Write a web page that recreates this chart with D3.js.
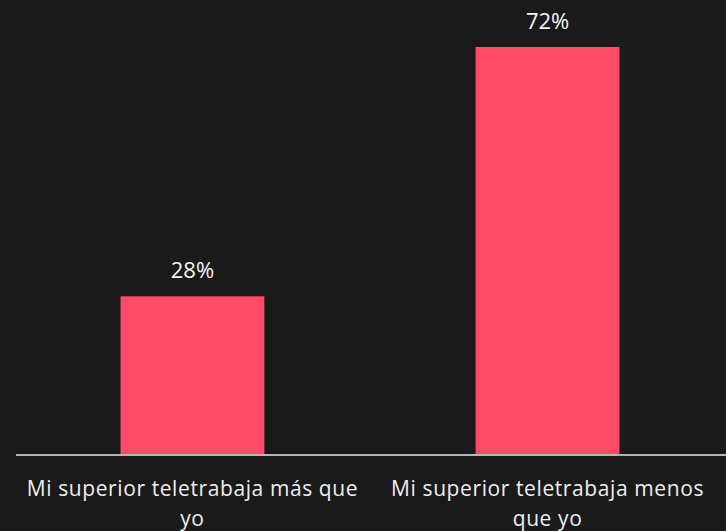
<!DOCTYPE html>
<html lang="es">
<head>
    <meta charset="UTF-8">
    <title>Teletrabajo superior</title>
    <script src="https://d3js.org/d3.v7.min.js"></script>
    <style>
        body {background:#1a1a1a; margin:0}
        svg {display:block}
        text {font-family: "Open Sans", Lato, sans-serif;}
    </style>
</head>
<body>
<svg id="chart" width="726" height="531"></svg>
<script>
// categories + values
var categories = [
    ["Mi superior teletrabaja más que", "yo"],
    ["Mi superior teletrabaja menos", "que yo"]
];
var values = [28, 72];
var valueLabels = ["28%", "72%"];

var width = 726, height = 531;
var svg = d3.select("#chart");
svg.append("rect").attr("width", width).attr("height", height).attr("fill", "#1a1a1a");

var x = d3.scaleBand()
    .domain(d3.range(categories.length))
    .range([14, 726])
    .paddingInner(0.595)
    .paddingOuter(0.3);

var y = d3.scaleLinear()
    .domain([0, 72])
    .range([455, 47]);

// bars
svg.selectAll("rect.bar")
    .data(values)
    .enter()
    .append("rect")
    .attr("class", "bar")
    .attr("x", function(d, i){ return x(i); })
    .attr("y", function(d){ return y(d); })
    .attr("width", x.bandwidth())
    .attr("height", function(d){ return y(0) - y(d); })
    .attr("fill", "#ff4b66");

// baseline
svg.append("line")
    .attr("x1", 16).attr("x2", 726)
    .attr("y1", y(0)).attr("y2", y(0))
    .attr("stroke", "#b5b5b5")
    .attr("stroke-width", 2);

// value labels
svg.selectAll("text.val")
    .data(values)
    .enter()
    .append("text")
    .attr("class", "val")
    .attr("x", function(d, i){ return x(i) + x.bandwidth() / 2; })
    .attr("y", function(d){ return y(d) - 18; })
    .attr("text-anchor", "middle")
    .attr("font-size", "22px")
    .attr("fill", "#f5f5f5")
    .text(function(d, i){ return valueLabels[i]; });

// category labels, two lines each
var cat = svg.selectAll("text.cat")
    .data(categories)
    .enter()
    .append("text")
    .attr("class", "cat")
    .attr("text-anchor", "middle")
    .attr("font-size", "21px")
    .attr("letter-spacing", "0.6px")
    .attr("fill", "#eeeeee");

cat.selectAll("tspan")
    .data(function(d, i){ return d.map(function(s){ return {s: s, i: i}; }); })
    .enter()
    .append("tspan")
    .attr("x", function(d){ return x(d.i) + x.bandwidth() / 2; })
    .attr("y", function(d, j){ return 496 + j * 30; })
    .text(function(d){ return d.s; });
</script>
</body>
</html>
